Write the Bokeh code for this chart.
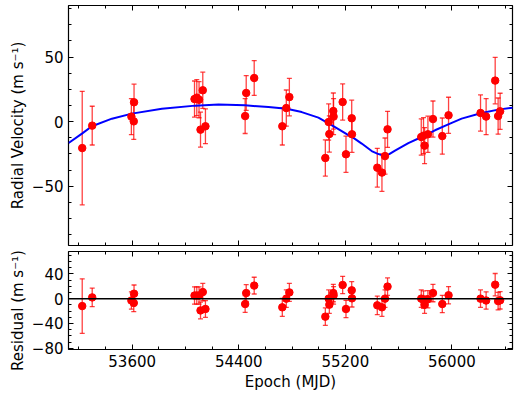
import math
from bokeh.plotting import figure
from bokeh.models import (ColumnDataSource, Whisker, TeeHead, Span, Label, Range1d,
                          SingleIntervalTicker, LinearAxis, CustomJSTickFormatter)
from bokeh.layouts import row, column
from bokeh.embed import file_html
from bokeh.resources import INLINE

# ---------------- data ----------------
epoch = [53225, 53300, 53594, 53614, 53612,
         54068, 54085, 54102, 54130, 54113, 54150,
         54448, 54456, 54516, 54727, 54757, 54780,
         55050, 55075, 55080, 55110, 55112, 55180, 55205, 55248, 55250,
         55440, 55475, 55498, 55517,
         55770, 55787, 55795, 55820, 55858, 55928, 55975,
         56215, 56257, 56325, 56347, 56362]
rv = [-20.5, -3.1, 3.9, 15.0, 0.2,
      17.5, 18.6, 17.0, 24.3, -6.2, -3.6,
      4.3, 22.2, 33.8, -3.6, 10.5, 19.0,
      -28.2, -0.3, -9.6, 8.2, 3.9, 15.2, -25.3, 2.6, -9.8,
      -35.7, -39.5, -26.7, -6.0,
      -11.9, -10.9, -18.6, -9.8, 2.0, -11.2, 4.9,
      6.7, 3.9, 31.8, 4.3, 8.0]
rv_err = [44, 15, 14, 14, 14,
          14, 14, 14, 14, 13.5, 13.5,
          13.5, 13.5, 13.5, 14.5, 14, 14.5,
          14, 14, 14, 14, 14, 14, 14, 14, 14,
          15, 14.5, 14, 14,
          14, 14, 14, 14, 14, 14, 14,
          14, 14, 18, 14, 14]
resid = [-12, 2, -3, 8, -7,
         5, 5, 5, 10.6, -19, -16.7,
         -8.7, 9, 21, -14, 0, 10,
         -29, 0, -9.7, 9, 5.3, 22, -16.7, 13.4, 0.5,
         -10.8, -14, 0, 19.4,
         0, -1.6, -9.7, -1, 9, -8.7, 5.4,
         0, -3, 22.5, -4, -2.7]

model_epoch = [53123, 53223, 53298, 53448, 53598, 53823, 54073, 54248, 54448,
               54623, 54760, 54873, 54998, 55123, 55223, 55248, 55323, 55398,
               55440, 55473, 55500, 55530, 55573, 55673, 55773, 55873, 55973,
               56073, 56223, 56348, 56460]
model_rv = [-16.6, -9.3, -3.6, 2.3, 6.2, 10.0, 12.4, 13.2, 12.6,
            11.3, 10.0, 7.4, 3.1, -4.2, -10.4, -11.6, -17.0, -22.8,
            -24.8, -26.0, -26.3, -25.2, -22.5, -16.6, -11.9, -6.7, -2.1,
            2.3, 6.7, 9.3, 10.8]

epoch_tick_values = [53600, 54400, 55200, 56000]
epoch_tick_labels = ["53600", "54400", "55200", "56000"]
rv_tick_values = [-50, 0, 50]
rv_tick_labels = ["\u221250", "0", "50"]
res_tick_values = [-80, -40, 0, 40]
res_tick_labels = ["\u221280", "\u221240", "0", "40"]

x_label = "Epoch (MJD)"
rv_label = "Radial Velocity (m s\u207b\u00b9)"
res_label = "Residual (m s\u207b\u00b9)"

# ---------------- styling ----------------
FONT = "DejaVu Sans"
FS = "15px"
RED = "#ff0000"
X_RANGE = (53122, 56455)
ALPHA = 0.75

src = ColumnDataSource(dict(
    epoch=epoch, rv=rv, resid=resid,
    rv_up=[v + e for v, e in zip(rv, rv_err)],
    rv_lo=[v - e for v, e in zip(rv, rv_err)],
    res_up=[v + e for v, e in zip(resid, rv_err)],
    res_lo=[v - e for v, e in zip(resid, rv_err)],
))


def style_axis(ax, show_labels=True):
    ax.axis_line_color = None
    ax.major_tick_in = 5
    ax.major_tick_out = 0
    ax.minor_tick_in = 3
    ax.minor_tick_out = 0
    ax.major_tick_line_color = "black"
    ax.minor_tick_line_color = "black"
    ax.major_label_text_font = FONT
    ax.major_label_text_font_size = FS
    ax.major_label_text_color = "black"
    if not show_labels:
        ax.formatter = CustomJSTickFormatter(code="return ''")
        ax.major_label_standoff = 0
        ax.major_label_text_font_size = "1px"


def make_panel(y_range, frame_h, step_y, y_vals, y_labels, up, lo,
               show_x_labels, mb_top, mb_bottom):
    p = figure(frame_width=444, frame_height=frame_h,
               x_range=Range1d(*X_RANGE), y_range=Range1d(*y_range),
               output_backend="svg", toolbar_location=None,
               min_border_left=39, min_border_right=5,
               min_border_top=mb_top, min_border_bottom=mb_bottom)
    p.grid.visible = False
    p.outline_line_color = "black"
    p.outline_line_width = 1.2
    p.background_fill_color = "white"
    p.border_fill_color = "white"

    x_step = epoch_tick_values[1] - epoch_tick_values[0]
    p.xaxis.ticker = SingleIntervalTicker(interval=x_step, num_minor_ticks=4)
    p.yaxis.ticker = SingleIntervalTicker(interval=step_y, num_minor_ticks=4)
    style_axis(p.xaxis[0], show_x_labels)
    style_axis(p.yaxis[0], True)
    p.yaxis.major_label_overrides = dict(zip(y_vals, y_labels))
    if show_x_labels:
        p.xaxis.major_label_overrides = dict(zip(epoch_tick_values, epoch_tick_labels))
        p.xaxis.axis_label = x_label
        p.xaxis.axis_label_text_font = FONT
        p.xaxis.axis_label_text_font_size = FS
        p.xaxis.axis_label_text_font_style = "normal"
        p.xaxis.axis_label_text_color = "black"
        p.xaxis.axis_label_standoff = 3

    ra = LinearAxis(ticker=SingleIntervalTicker(interval=step_y, num_minor_ticks=4))
    style_axis(ra, False)
    p.add_layout(ra, "right")
    ta = LinearAxis(ticker=SingleIntervalTicker(interval=x_step, num_minor_ticks=4))
    style_axis(ta, False)
    p.add_layout(ta, "above")

    w = Whisker(source=src, base="epoch", upper=up, lower=lo, dimension="height",
                line_color=RED, line_alpha=ALPHA, line_width=1.3,
                upper_head=TeeHead(size=5, line_color=RED, line_alpha=ALPHA, line_width=1.3),
                lower_head=TeeHead(size=5, line_color=RED, line_alpha=ALPHA, line_width=1.3))
    p.add_layout(w)
    return p


top = make_panel((-96, 90), 240, rv_tick_values[1] - rv_tick_values[0],
                 rv_tick_values, rv_tick_labels, "rv_up", "rv_lo",
                 False, 5, 3)
top.line(model_epoch, model_rv, line_color="#0000ff", line_width=2)
top.scatter("epoch", "rv", source=src, size=7.5, fill_color=RED, line_color=RED)

bot = make_panel((-82, 76), 98, res_tick_values[1] - res_tick_values[0],
                 res_tick_values, res_tick_labels, "res_up", "res_lo",
                 True, 3, 40)
bot.add_layout(Span(location=0, dimension="width", line_color="black", line_width=1.5))
bot.scatter("epoch", "resid", source=src, size=7.5, fill_color=RED, line_color=RED)

LAB_H = 395
lab = figure(width=28, height=LAB_H, x_range=Range1d(0, 1), y_range=Range1d(0, 1),
             output_backend="svg", toolbar_location=None, min_border=0,
             x_axis_location=None, y_axis_location=None)
lab.grid.visible = False
lab.outline_line_color = None
lab.add_layout(Label(x=17, y=LAB_H - 125, x_units="screen", y_units="screen", text=rv_label,
                     angle=math.pi / 2, text_align="center", text_baseline="middle",
                     text_font=FONT, text_font_size=FS, text_color="black"))
lab.add_layout(Label(x=17, y=LAB_H - 310, x_units="screen", y_units="screen", text=res_label,
                     angle=math.pi / 2, text_align="center", text_baseline="middle",
                     text_font=FONT, text_font_size=FS, text_color="black"))

layout = row(lab, column(top, bot))
open("out.html", "w").write(file_html(layout, INLINE))
